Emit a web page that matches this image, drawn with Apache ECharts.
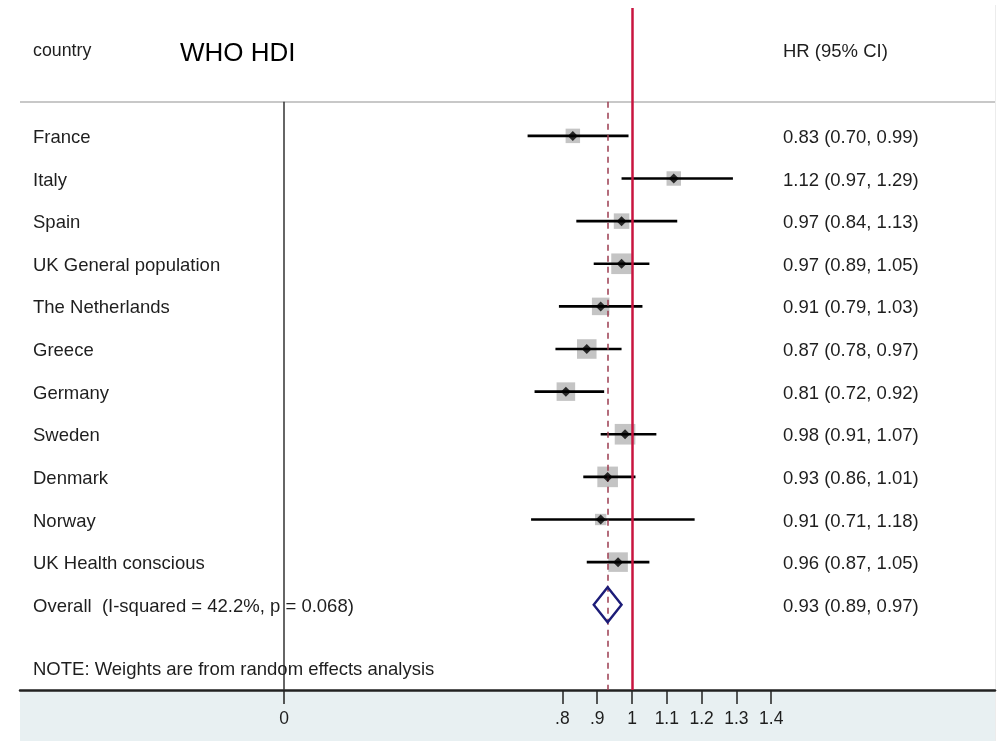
<!DOCTYPE html>
<html>
<head>
<meta charset="utf-8">
<script src="https://cdn.jsdelivr.net/npm/echarts@6/dist/echarts.min.js"></script>
<style>html,body{margin:0;padding:0;background:#fff}#chart{width:1004px;height:741px}</style>
</head>
<body>
<div id="chart"></div>
<script>
const countries = ['France','Italy','Spain','UK General population','The Netherlands','Greece','Germany','Sweden','Denmark','Norway','UK Health conscious'];
const hr =    [0.83, 1.12, 0.97, 0.97, 0.91, 0.87, 0.81, 0.98, 0.93, 0.91, 0.96];
const lower = [0.70, 0.97, 0.84, 0.89, 0.79, 0.78, 0.72, 0.91, 0.86, 0.71, 0.87];
const upper = [0.99, 1.29, 1.13, 1.05, 1.03, 0.97, 0.92, 1.07, 1.01, 1.18, 1.05];
const weights = [6.0, 6.0, 6.9, 12.2, 8.8, 11.0, 9.9, 12.2, 12.2, 3.7, 11.0];
const overallLabel = 'Overall  (I-squared = 42.2%, p = 0.068)';
const overallHr = [0.93];
const overallLower = [0.89];
const overallUpper = [0.97];
const noteText = 'NOTE: Weights are from random effects analysis';
const tickValues = [0, 0.8, 0.9, 1, 1.1, 1.2, 1.3, 1.4];
const tickLabels = ['0', '.8', '.9', '1', '1.1', '1.2', '1.3', '1.4'];

const FONT = "'Liberation Sans', Arial, sans-serif";
const TXT = '#1e1e1e';
const fmt = v => v.toFixed(2);
const ciText = (e, l, u) => fmt(e) + ' (' + fmt(l) + ', ' + fmt(u) + ')';

const rowLabels = countries.map((c, i) => [i, c, ciText(hr[i], lower[i], upper[i])]);
rowLabels.push([countries.length, overallLabel, ciText(overallHr[0], overallLower[0], overallUpper[0])]);
const overallRow = countries.length;
const noteRow = countries.length + 1.5;

const chart = echarts.init(document.getElementById('chart'), null, {renderer: 'canvas'});
const tickMap = {};
tickValues.forEach((v, i) => tickMap[v.toFixed(2)] = tickLabels[i]);

chart.setOption({
  animation: false,
  backgroundColor: '#fff',
  grid: {left: 20, right: 9, top: 8, bottom: 51, containLabel: false},
  xAxis: {
    type: 'value', min: -0.7586, max: 2.0431,
    splitLine: {show: false},
    axisLine: {show: true, onZero: false, lineStyle: {color: '#222', width: 2.5}},
    axisTick: {show: true, customValues: tickValues, length: 14, lineStyle: {color: '#222', width: 1.5}},
    axisLabel: {show: true, customValues: tickValues, margin: 20, color: TXT, fontSize: 17.5, fontFamily: FONT,
      formatter: v => tickMap[Number(v).toFixed(2)] || ''}
  },
  yAxis: {type: 'value', inverse: true, min: -3, max: 13, show: false},
  graphic: [
    {type: 'rect', z: -100, silent: true, shape: {x: 20, y: 691, width: 975, height: 50}, style: {fill: '#e8f0f2'}},
    {type: 'line', z: -50, silent: true, shape: {x1: 995.5, y1: 5, x2: 995.5, y2: 741}, style: {stroke: '#ececec', lineWidth: 1}},
    {type: 'text', left: 33, top: 42, style: {text: 'country', fill: TXT, font: "17.8px " + FONT}},
    {type: 'text', left: 180, top: 41, style: {text: 'WHO HDI', fill: '#000', font: "26px " + FONT}},
    {type: 'text', left: 783, top: 42, style: {text: 'HR (95% CI)', fill: TXT, font: "18.5px " + FONT}}
  ],
  series: [
    {
      name: 'weights', type: 'scatter', z: 3,
      symbol: 'rect',
      data: hr.map((v, i) => ({value: [v, i], symbolSize: Math.sqrt(weights[i]) * 5.9})),
      itemStyle: {color: '#b5b5b5'},
      silent: true,
      markLine: {
        silent: true, symbol: ['none', 'none'], label: {show: false}, animation: false,
        data: [
          [{coord: [-0.7586, -0.8], lineStyle: {color: '#c8c8c8', width: 2, type: 'solid'}}, {coord: [2.0431, -0.8]}],
          [{coord: [0, -0.8], lineStyle: {color: '#333', width: 1.5, type: 'solid'}}, {coord: [0, 13]}],
          [{coord: [overallHr[0], -0.8], lineStyle: {color: '#9c3c50', width: 1.5, type: [6, 5]}}, {coord: [overallHr[0], 13]}],
          [{coord: [1, -3], lineStyle: {color: '#c8143f', width: 2.5, type: 'solid'}}, {coord: [1, 13]}]
        ]
      }
    },
    {
      name: 'ci', type: 'custom', z: 4, silent: true, clip: false,
      encode: {x: [1, 2], y: 0},
      data: countries.map((c, i) => [i, lower[i], upper[i]]),
      renderItem: (params, api) => {
        const y = api.value(0);
        const a = api.coord([api.value(1), y]);
        const b = api.coord([api.value(2), y]);
        return {type: 'line', shape: {x1: a[0], y1: a[1], x2: b[0], y2: b[1]}, style: {stroke: '#000', lineWidth: 2.6}};
      }
    },
    {
      name: 'est', type: 'scatter', z: 5, silent: true,
      symbol: 'diamond', symbolSize: 10,
      data: hr.map((v, i) => [v, i]),
      itemStyle: {color: '#000'}
    },
    {
      name: 'overall', type: 'custom', z: 5, silent: true, clip: false,
      encode: {x: [1, 2, 3], y: 0},
      data: overallHr.map((v, i) => [overallRow, overallLower[i], v, overallUpper[i]]),
      renderItem: (params, api) => {
        const y = api.value(0);
        const l = api.coord([api.value(1), y]);
        const t = api.coord([api.value(2), y - 0.41]);
        const r = api.coord([api.value(3), y]);
        const btm = api.coord([api.value(2), y + 0.41]);
        return {type: 'polygon', shape: {points: [l, t, r, btm]}, style: {fill: 'none', stroke: '#1c1c78', lineWidth: 2.4}};
      }
    },
    {
      name: 'labels', type: 'custom', z: 6, silent: true, clip: false,
      encode: {y: 0},
      data: rowLabels,
      renderItem: (params, api) => {
        const i = params.dataIndex;
        const y = api.coord([0, rowLabels[i][0]])[1] + 2;
        return {type: 'group', children: [
          {type: 'text', x: 33, y: y, style: {text: rowLabels[i][1], fill: TXT, font: "18.5px " + FONT, verticalAlign: 'middle', align: 'left'}},
          {type: 'text', x: 783, y: y, style: {text: rowLabels[i][2], fill: TXT, font: "18.5px " + FONT, verticalAlign: 'middle', align: 'left'}}
        ]};
      }
    },
    {
      name: 'note', type: 'custom', z: 6, silent: true, clip: false,
      encode: {y: 0},
      data: [[noteRow]],
      renderItem: (params, api) => {
        const y = api.coord([0, api.value(0)])[1] + 1;
        return {type: 'text', x: 33, y: y, style: {text: noteText, fill: TXT, font: "18.5px " + FONT, verticalAlign: 'middle', align: 'left'}};
      }
    }
  ]
});
</script>
</body>
</html>
